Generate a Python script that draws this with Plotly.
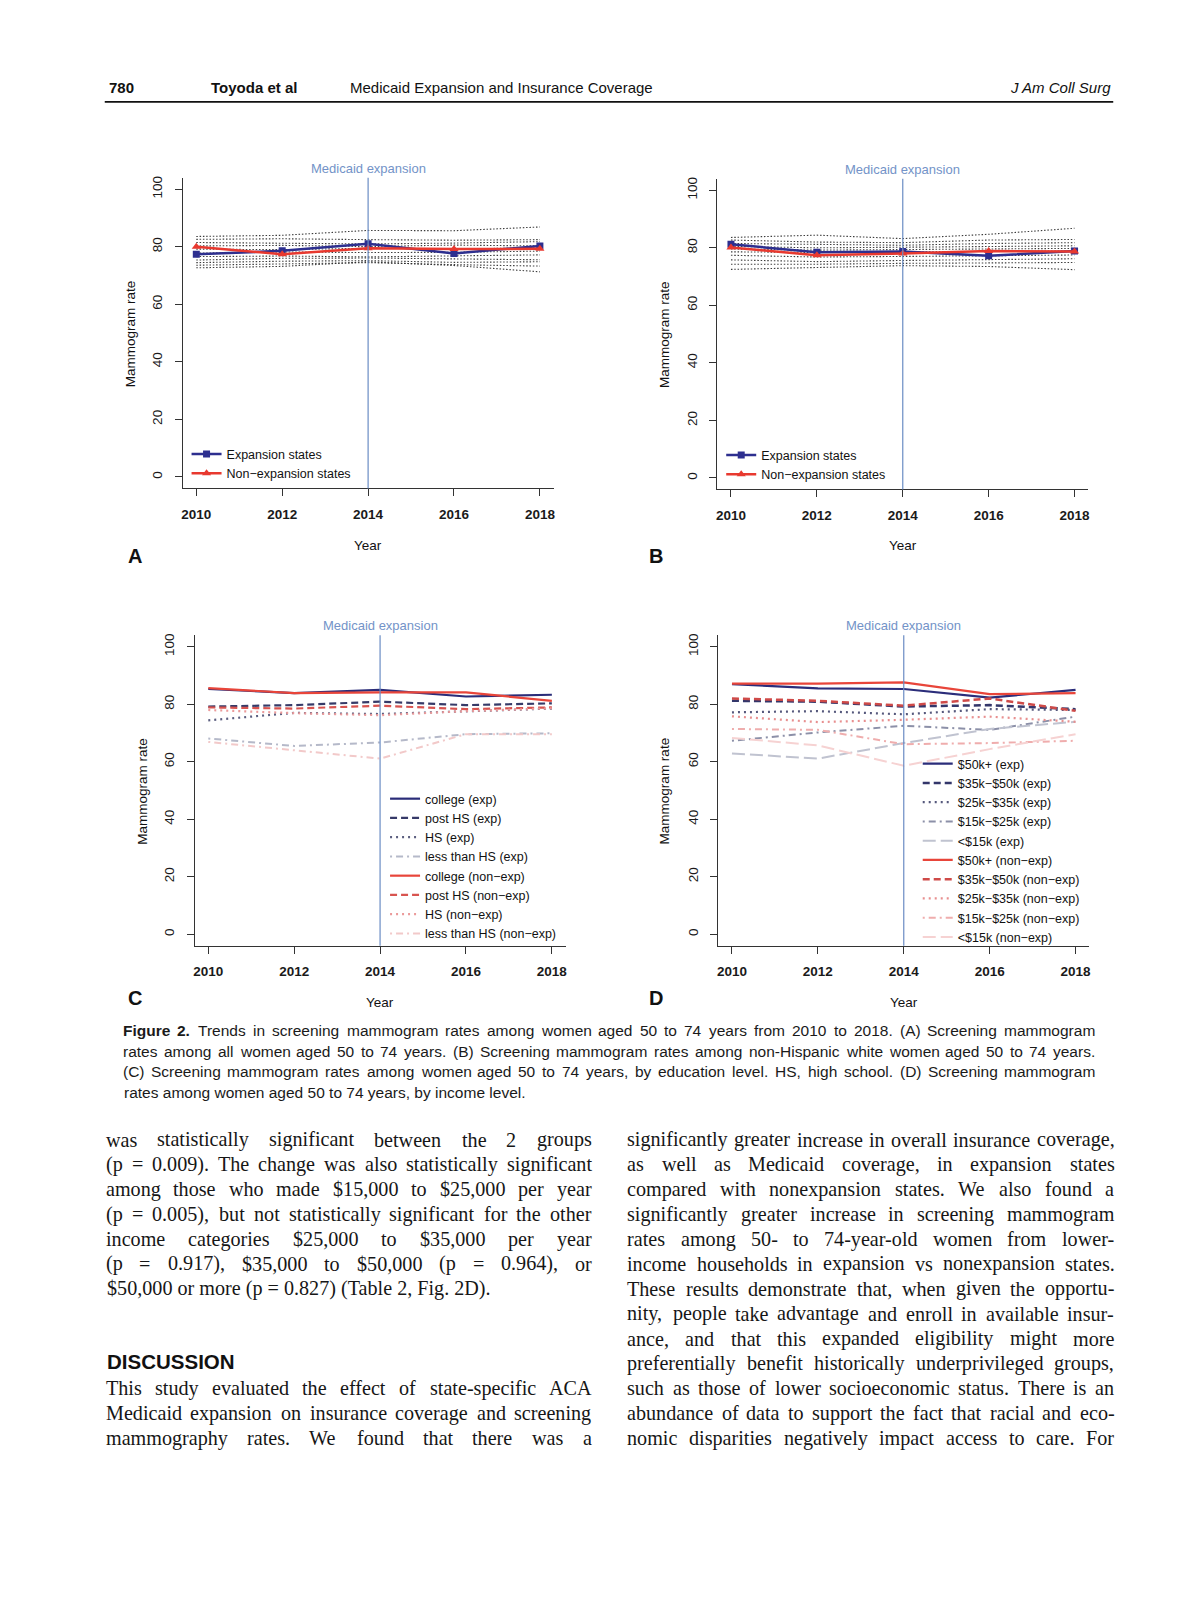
import plotly.graph_objects as go

W, H = 1200, 1613

# ---------------- data ----------------
years = [2010, 2012, 2014, 2016, 2018]
expansion_year = 2014
rate_ticks = [0, 20, 40, 60, 80, 100]

# (A) all women aged 50-74
a_expansion = [77.4, 78.6, 81.1, 77.7, 80.3]
a_nonexpansion = [80.0, 77.4, 79.5, 79.2, 79.3]
a_state_lines = [
    [83.6, 84.0, 85.7, 85.6, 86.9],
    [82.6, 82.8, 82.5, 82.3, 82.5],
    [81.5, 81.2, 81.0, 81.3, 81.8],
    [80.3, 80.5, 80.1, 80.6, 80.3],
    [79.2, 79.0, 79.5, 79.3, 79.6],
    [77.8, 78.2, 78.0, 78.1, 78.5],
    [76.6, 76.8, 76.5, 76.9, 77.2],
    [75.4, 76.0, 76.1, 75.8, 75.5],
    [74.5, 75.0, 75.2, 74.6, 74.8],
    [73.6, 74.0, 74.5, 73.8, 73.3],
    [72.7, 73.2, 74.8, 73.5, 71.3],
]

# (B) non-Hispanic white women aged 50-74
b_expansion = [81.2, 78.5, 78.7, 77.2, 78.9]
b_nonexpansion = [80.1, 77.4, 78.0, 78.9, 78.7]
b_state_lines = [
    [83.6, 84.4, 83.2, 84.7, 86.8],
    [82.7, 82.0, 81.8, 82.7, 82.9],
    [81.5, 81.2, 80.9, 81.5, 81.8],
    [80.5, 80.0, 80.2, 80.4, 80.7],
    [79.6, 79.2, 79.4, 79.6, 79.8],
    [78.6, 78.4, 78.6, 78.8, 78.9],
    [77.4, 76.8, 77.0, 77.2, 77.5],
    [75.8, 75.2, 75.6, 75.8, 76.2],
    [74.3, 74.3, 74.6, 74.8, 74.9],
    [72.5, 73.1, 73.8, 73.5, 72.4],
]

# (C) by education level
edu_groups = ["college", "post HS", "HS", "less than HS"]
c_college_exp = [85.3, 83.9, 85.0, 82.7, 83.3]
c_posths_exp = [79.2, 79.7, 80.9, 79.7, 80.3]
c_hs_exp = [74.4, 77.0, 76.6, 77.6, 78.5]
c_lths_exp = [68.1, 65.5, 66.7, 69.6, 69.9]
c_college_non = [85.6, 83.9, 84.1, 84.1, 81.2]
c_posths_non = [78.9, 78.5, 79.5, 78.3, 78.9]
c_hs_non = [78.0, 76.9, 76.2, 77.6, 78.6]
c_lths_non = [66.9, 64.1, 61.1, 69.6, 69.6]

# (D) by income level
inc_groups = ["$50k+", "$35k\u2212$50k", "$25k\u2212$35k", "$15k\u2212$25k", "&lt;$15k"]
d_50_exp = [87.0, 85.5, 85.3, 82.3, 85.0]
d_35_exp = [81.2, 80.9, 79.2, 79.7, 78.3]
d_25_exp = [77.2, 77.6, 76.5, 78.3, 78.0]
d_15_exp = [67.3, 70.2, 72.5, 71.1, 75.7]
d_lt15_exp = [62.9, 61.1, 66.5, 71.4, 73.9]
d_50_non = [87.2, 87.2, 87.6, 83.5, 83.9]
d_35_non = [82.0, 81.2, 79.5, 82.0, 77.7]
d_25_non = [75.8, 73.8, 74.6, 75.7, 73.9]
d_15_non = [71.4, 71.1, 66.1, 66.5, 67.3]
d_lt15_non = [68.3, 65.7, 58.6, 64.4, 69.6]

# ---------------- page text ----------------
caption_lines = [
    ("<b>Figure</b> <b>2.</b> Trends in screening mammogram rates among women aged 50 to 74 years from 2010 to 2018. (A) Screening mammogram", True),
    ("rates among all women aged 50 to 74 years. (B) Screening mammogram rates among non-Hispanic white women aged 50 to 74 years.", True),
    ("(C) Screening mammogram rates among women aged 50 to 74 years, by education level. HS, high school. (D) Screening mammogram", True),
    ("rates among women aged 50 to 74 years, by income level.", False),
]
left_col_a = [
    ("was statistically significant between the 2 groups", True),
    ("(p = 0.009). The change was also statistically significant", True),
    ("among those who made $15,000 to $25,000 per year", True),
    ("(p = 0.005), but not statistically significant for the other", True),
    ("income categories $25,000 to $35,000 per year", True),
    ("(p = 0.917), $35,000 to $50,000 (p = 0.964), or", True),
    ("$50,000 or more (p = 0.827) (Table 2, Fig. 2D).", False),
]
left_col_b = [
    ("This study evaluated the effect of state-specific ACA", True),
    ("Medicaid expansion on insurance coverage and screening", True),
    ("mammography rates. We found that there was a", True),
]
right_col = [
    ("significantly greater increase in overall insurance coverage,", True),
    ("as well as Medicaid coverage, in expansion states", True),
    ("compared with nonexpansion states. We also found a", True),
    ("significantly greater increase in screening mammogram", True),
    ("rates among 50- to 74-year-old women from lower-", True),
    ("income households in expansion vs nonexpansion states.", True),
    ("These results demonstrate that, when given the opportu-", True),
    ("nity, people take advantage and enroll in available insur-", True),
    ("ance, and that this expanded eligibility might more", True),
    ("preferentially benefit historically underprivileged groups,", True),
    ("such as those of lower socioeconomic status. There is an", True),
    ("abundance of data to support the fact that racial and eco-", True),
    ("nomic disparities negatively impact access to care. For", True),
]

# ---------------- helpers ----------------
SANS = "Liberation Sans, Arial, sans-serif"
SERIF = "Liberation Serif, Times New Roman, serif"

ARIAL = {' ': 278, '!': 278, '$': 556, '%': 889, '(': 333, ')': 333, ',': 278, '-': 333, '.': 278,
         ':': 278, ';': 278, '=': 584, '<': 584}
for ch in '0123456789':
    ARIAL[ch] = 556
ARIAL.update(dict(zip('ABCDEFGHIJKLMNOPQRSTUVWXYZ',
                      [667, 667, 722, 722, 667, 611, 778, 722, 278, 500, 667, 556, 833, 722, 778, 667, 778, 722, 667, 611, 722, 667, 944, 667, 667, 611])))
ARIAL.update(dict(zip('abcdefghijklmnopqrstuvwxyz',
                      [556, 556, 500, 556, 556, 278, 556, 556, 222, 222, 500, 222, 833, 556, 556, 556, 556, 333, 500, 278, 556, 500, 722, 500, 500, 500])))
TIMES = {' ': 250, '$': 500, '(': 333, ')': 333, ',': 250, '-': 333, '.': 250, ':': 278, ';': 278, '=': 564}
for ch in '0123456789':
    TIMES[ch] = 500
TIMES.update(dict(zip('ABCDEFGHIJKLMNOPQRSTUVWXYZ',
                      [722, 667, 667, 722, 611, 556, 722, 722, 333, 389, 722, 611, 889, 722, 722, 556, 722, 667, 556, 611, 722, 722, 944, 722, 722, 611])))
TIMES.update(dict(zip('abcdefghijklmnopqrstuvwxyz',
                      [444, 500, 444, 500, 444, 333, 500, 500, 278, 278, 500, 278, 778, 500, 500, 500, 500, 333, 389, 278, 500, 500, 722, 500, 500, 444])))


def word_units(word, table):
    bold = word.startswith("<b>")
    plain = word.replace("<b>", "").replace("</b>", "")
    u = sum(table.get(c, 500) for c in plain) / 1000.0
    return u * (1.07 if bold else 1.0)


def line_units(text, table):
    words = text.split(" ")
    return sum(word_units(w, table) for w in words) + table[' '] / 1000.0 * (len(words) - 1)


annotations = []


def px(xp):
    return xp / W


def py(yp):
    return 1 - yp / H


def add_text(text, x, y, size, family=SANS, color="#1a1a1a", xanchor="left", **kw):
    annotations.append(dict(text=text, x=px(x), y=py(y), xref="paper", yref="paper",
                            xanchor=xanchor, yanchor="middle", showarrow=False,
                            font=dict(family=family, size=size, color=color), **kw))


def place_block(lines, x0, x1, y0, dy, size, family, table, color):
    for i, (txt, just) in enumerate(lines):
        y = y0 + i * dy
        if not just:
            add_text(txt, x0, y, size, family, color)
            continue
        words = txt.split(" ")
        widths = [word_units(w, table) * size for w in words]
        gap = (x1 - x0 - sum(widths)) / (len(words) - 1)
        x = x0
        for w, wd in zip(words, widths):
            add_text(w, x, y, size, family, color, borderpad=0)
            x += wd + gap


def fit_size(blocks, width, table, cap):
    s = cap
    for lines in blocks:
        for txt, just in lines:
            if just:
                s = min(s, width * 0.985 / line_units(txt, table))
    return s


# ---------------- figure ----------------
fig = go.Figure()

panels = [
    ("x", "y", (174, 546), (168, 479)),
    ("x2", "y2", (710, 1082), (169, 480)),
    ("x3", "y3", (186, 558), (626, 937)),
    ("x4", "y4", (711, 1083), (626, 937)),
]

DOT = "1.5px,1.8px"
R_DASH = "7px,4px"
R_DOT = "2px,4px"
R_DOTDASH = "2px,4px,7px,4px"
R_LONGDASH = "13px,5px"

# Panels A and B
for (xa, ya, _, _), states, exp_vals, non_vals, leg in [
        (panels[0], a_state_lines, a_expansion, a_nonexpansion, "legend"),
        (panels[1], b_state_lines, b_expansion, b_nonexpansion, "legend2")]:
    for s in states:
        fig.add_trace(go.Scatter(x=years, y=s, xaxis=xa, yaxis=ya, mode="lines",
                                 line=dict(color="rgba(40,40,40,0.9)", width=1.1, dash=DOT),
                                 showlegend=False, hoverinfo="skip"))
    fig.add_trace(go.Scatter(x=years, y=exp_vals, xaxis=xa, yaxis=ya, mode="lines+markers",
                             name="Expansion states", legend=leg,
                             line=dict(color="#2d2f8f", width=2.5),
                             marker=dict(symbol="square", size=7, color="#2d2f8f")))
    fig.add_trace(go.Scatter(x=years, y=non_vals, xaxis=xa, yaxis=ya, mode="lines+markers",
                             name="Non\u2212expansion states", legend=leg,
                             line=dict(color="#e8392f", width=2.5),
                             marker=dict(symbol="triangle-up", size=8, color="#e8392f")))

# Panel C
c_series = [
    (edu_groups[0] + " (exp)", c_college_exp, "#2a2c78", "solid", 2.2),
    (edu_groups[1] + " (exp)", c_posths_exp, "#363a68", R_DASH, 2.2),
    (edu_groups[2] + " (exp)", c_hs_exp, "#5c5f80", R_DOT, 2.2),
    (edu_groups[3] + " (exp)", c_lths_exp, "#b5b9c9", R_DOTDASH, 2.0),
    (edu_groups[0] + " (non\u2212exp)", c_college_non, "#e8453a", "solid", 2.2),
    (edu_groups[1] + " (non\u2212exp)", c_posths_non, "#d85450", R_DASH, 2.2),
    (edu_groups[2] + " (non\u2212exp)", c_hs_non, "#eb9a9a", R_DOT, 2.2),
    (edu_groups[3] + " (non\u2212exp)", c_lths_non, "#f2c9c9", R_DOTDASH, 2.0),
]
for name, vals, col, dash, lw in c_series:
    fig.add_trace(go.Scatter(x=years, y=vals, xaxis="x3", yaxis="y3", mode="lines", name=name,
                             legend="legend3", line=dict(color=col, width=lw, dash=dash)))

# Panel D
d_series = [
    (inc_groups[0] + " (exp)", d_50_exp, "#2b2d7a", "solid", 2.2),
    (inc_groups[1] + " (exp)", d_35_exp, "#33366a", R_DASH, 2.5),
    (inc_groups[2] + " (exp)", d_25_exp, "#55587c", R_DOT, 2.2),
    (inc_groups[3] + " (exp)", d_15_exp, "#8c90a8", R_DOTDASH, 2.0),
    (inc_groups[4] + " (exp)", d_lt15_exp, "#c0c3d0", R_LONGDASH, 2.0),
    (inc_groups[0] + " (non\u2212exp)", d_50_non, "#e8453a", "solid", 2.2),
    (inc_groups[1] + " (non\u2212exp)", d_35_non, "#cf4a48", R_DASH, 2.5),
    (inc_groups[2] + " (non\u2212exp)", d_25_non, "#e88f8f", R_DOT, 2.2),
    (inc_groups[3] + " (non\u2212exp)", d_15_non, "#efadad", R_DOTDASH, 2.0),
    (inc_groups[4] + " (non\u2212exp)", d_lt15_non, "#f6d2d2", R_LONGDASH, 2.0),
]
for name, vals, col, dash, lw in d_series:
    fig.add_trace(go.Scatter(x=years, y=vals, xaxis="x4", yaxis="y4", mode="lines", name=name,
                             legend="legend4", line=dict(color=col, width=lw, dash=dash)))

layout = dict(width=W, height=H, margin=dict(l=0, r=0, t=0, b=0),
              paper_bgcolor="white", plot_bgcolor="white", showlegend=True)

AX = "#333333"
for i, (xa, ya, (x0, x1), (t, b)) in enumerate(panels):
    n = "" if i == 0 else str(i + 1)
    layout["xaxis" + n] = dict(domain=[x0 / W, x1 / W], anchor="y" + n,
                               range=[2009.68, 2018.32], tickvals=years,
                               ticks="outside", ticklen=7, tickwidth=1, tickcolor=AX,
                               showline=True, linecolor=AX, linewidth=1,
                               showgrid=False, zeroline=False, ticklabelstandoff=6,
                               tickfont=dict(family=SANS, size=13.5, color="#1a1a1a", weight="bold"))
    layout["yaxis" + n] = dict(domain=[1 - b / H, 1 - t / H], anchor="x" + n,
                               range=[-4, 104], tickvals=rate_ticks, tickangle=-90,
                               ticks="outside", ticklen=7, tickwidth=1, tickcolor=AX,
                               showline=True, linecolor=AX, linewidth=1,
                               showgrid=False, zeroline=False, ticklabelstandoff=7,
                               tickfont=dict(family=SANS, size=13.5, color="#1a1a1a"))
    # expansion year marker line
    fig.add_shape(type="line", xref=xa, x0=expansion_year, x1=expansion_year,
                  yref=ya + " domain", y0=0, y1=1, line=dict(color="#6a8cc4", width=1.2))
    annotations.append(dict(text="Medicaid expansion", xref=xa, x=expansion_year,
                            yref=ya + " domain", y=1, yanchor="bottom", yshift=0,
                            showarrow=False, font=dict(family=SANS, size=13, color="#7393c8")))

LEG_FONT = dict(family=SANS, size=12.5, color="#111111")
for key, (lx, ly) in zip(["legend", "legend2", "legend3", "legend4"],
                         [(178, 430), (714, 431), (377, 775), (911, 740)]):
    layout[key] = dict(x=lx / W, y=1 - ly / H, xanchor="left", yanchor="top",
                       bgcolor="rgba(0,0,0,0)", font=LEG_FONT, itemwidth=30,
                       tracegroupgap=0, traceorder="normal", itemclick=False)

# axis titles and panel letters
for (xc, yc) in [(122, 324), (657, 325), (133, 782), (657, 782)]:
    add_text("Mammogram rate", xc, yc, 13.5, SANS, "#111111", xanchor="center", textangle=-90)
for (xc, yc) in [(360, 536), (896, 536), (372, 994), (897, 994)]:
    add_text("Year", xc, yc, 13.5, SANS, "#111111", xanchor="center")
for letter, (xc, yc) in zip("ABCD", [(126, 547), (649, 547), (126, 989), (649, 989)]):
    add_text("<b>" + letter + "</b>", xc, yc, 20, SANS, "#111111", xanchor="center")

# running header
add_text("<b>780</b>", 98, 78, 15, SANS, "#111111")
add_text("<b>Toyoda et al</b>", 201, 78, 15, SANS, "#111111")
add_text("Medicaid Expansion and Insurance Coverage", 340, 78, 15, SANS, "#111111")
add_text("<i>J Am Coll Surg</i>", 1107, 78, 15, SANS, "#111111", xanchor="right")
fig.add_shape(type="line", xref="paper", yref="paper", x0=96 / W, x1=1107 / W,
              y0=py(92), y1=py(92), line=dict(color="#111111", width=1.6))

# caption
cap_size = fit_size([caption_lines], 1088 - 113, ARIAL, 15.5)
place_block(caption_lines, 113, 1088, 1022, 20.6, cap_size, SANS, ARIAL, "#1a1a1a")

# body text (two justified columns)
body_size = fit_size([left_col_a, left_col_b, right_col], 487, TIMES, 20.5)
DY = 24.9
place_block(left_col_a, 96, 583, 1131, DY, body_size, SERIF, TIMES, "#161616")
add_text("<b>DISCUSSION</b>", 96, 1353, 20.5, SANS, "#111111")
place_block(left_col_b, 96, 583, 1131 + 10 * DY, DY, body_size, SERIF, TIMES, "#161616")
place_block(right_col, 619, 1107, 1131, DY, body_size, SERIF, TIMES, "#161616")

layout["annotations"] = annotations
fig.update_layout(**layout)
fig.write_html("out.html")
